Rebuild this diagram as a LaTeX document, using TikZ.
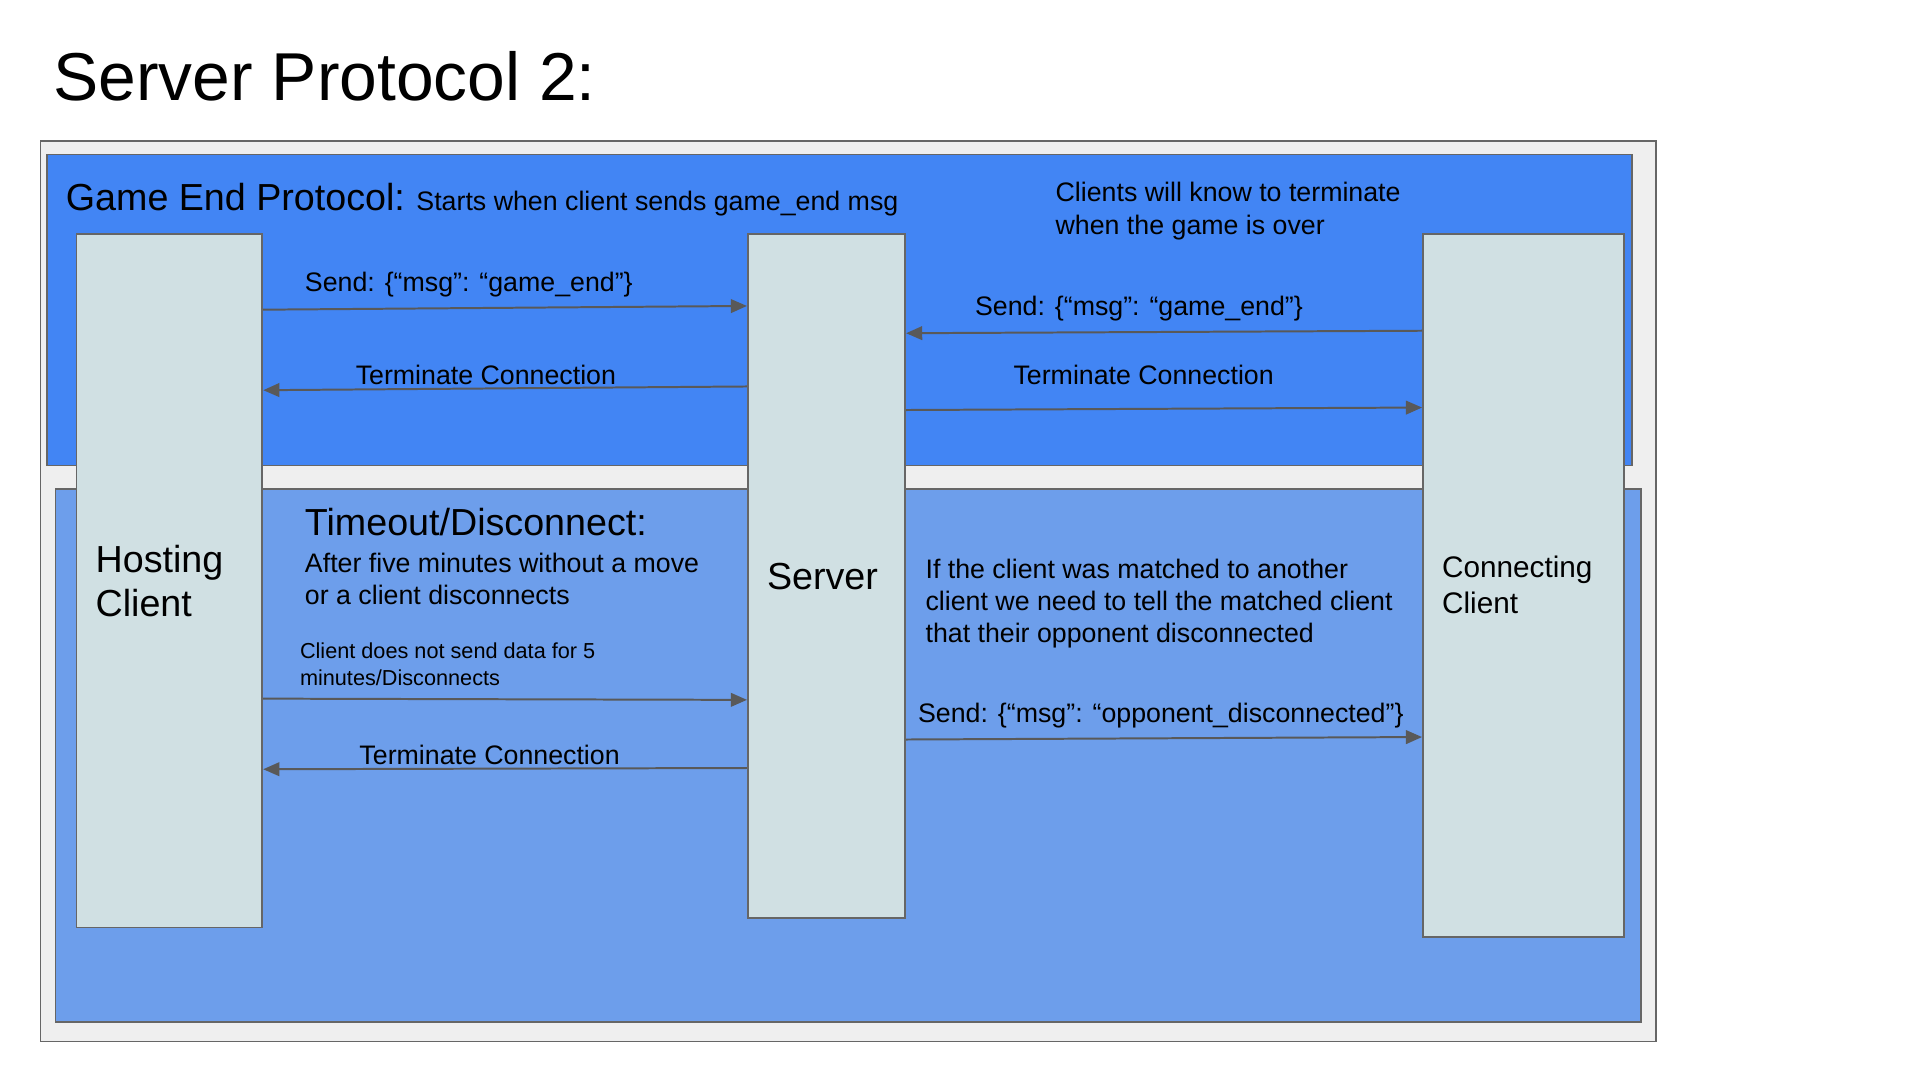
\documentclass[tikz,border=0pt]{standalone}
\usepackage{fontspec}
\setmainfont{Liberation Sans}
\usetikzlibrary{arrows.meta}
\definecolor{outerfill}{HTML}{EFEFEF}
\definecolor{edgegray}{HTML}{666666}
\definecolor{arrgray}{HTML}{595959}
\definecolor{topblue}{HTML}{4285F4}
\definecolor{lowblue}{HTML}{6D9EEB}
\definecolor{boxfill}{HTML}{D0E0E3}
\tikzset{
  panel/.style={draw=edgegray, line width=1.5pt, inner sep=0pt, anchor=north west},
  lifebox/.style={panel, fill=boxfill},
  arr/.style={draw=arrgray, line width=1.6pt, -{Triangle[length=13pt,width=11pt]}},
  body/.style={inner sep=0pt, anchor=base west, align=left, font=\fontsize{21.6}{26}\selectfont},
  big/.style={inner sep=0pt, anchor=base west, align=left, font=\fontsize{30.4}{36}\selectfont},
  small/.style={inner sep=0pt, anchor=base west, align=left, font=\fontsize{17.5}{21}\selectfont},
}
\begin{document}
\begin{tikzpicture}[x=1pt,y=-1pt]
\useasboundingbox (0,0) rectangle (1550,872);
% panels
\node[panel, fill=outerfill, minimum width=1304pt, minimum height=727pt] (outer) at (32,113) {};
\node[panel, fill=topblue, minimum width=1280pt, minimum height=251pt] (gameend) at (37,124) {};
\node[panel, fill=lowblue, minimum width=1280pt, minimum height=430pt] (timeout) at (44,394) {};
% lifelines
\node[lifebox, minimum width=150pt, minimum height=560pt] (host) at (61,188) {};
\node[lifebox, minimum width=127pt, minimum height=552pt] (server) at (603,188) {};
\node[lifebox, minimum width=162pt, minimum height=568pt] (conn) at (1148,188) {};
% title
\node[inner sep=0pt, anchor=base west, font=\fontsize{54.7}{60}\selectfont] (title) at (43,81.5) {Server Protocol 2:};
% game end texts (multi-line nodes: base = last line)
\node[big] (getitle) at (53,170) {Game End Protocol:};
\node[body] (gesub) at (336,170) {Starts when client sends game\_end msg};
\node[body] (genote) at (852,189) {Clients will know to terminate\\when the game is over};
\node[body] (l1) at (246,235) {Send: \{“msg”: “game\_end”\}};
\node[body] (l2) at (287,310) {Terminate Connection};
\node[body] (l3) at (787,255) {Send: \{“msg”: “game\_end”\}};
\node[body] (l4) at (818,310) {Terminate Connection};
% box labels
\node[big] (hostlbl) at (77,498) {Hosting\\Client};
\node[big] (serverlbl) at (619,476) {Server};
\node[inner sep=0pt, anchor=base west, align=left, font=\fontsize{24}{29}\selectfont] (connlbl) at (1164,495) {Connecting\\Client};
% timeout texts
\node[big] (totitle) at (246,432) {Timeout/Disconnect:};
\node[body] (tosub) at (246,488) {After five minutes without a move\\or a client disconnects};
\node[small] (l5) at (242,553) {Client does not send data for 5\\minutes/Disconnects};
\node[body] (l6) at (290,617) {Terminate Connection};
\node[body] (tonote) at (747,519) {If the client was matched to another\\client we need to tell the matched client\\that their opponent disconnected};
\node[body] (l7) at (741,583) {Send: \{“msg”: “opponent\_disconnected”\}};
% arrows
\draw[arr] ([yshift=-62pt]host.north east) -- ([yshift=-59pt]server.north west);
\draw[arr] ([yshift=-124pt]server.north west) -- ([yshift=-127pt]host.north east);
\draw[arr] ([yshift=-79pt]conn.north west) -- ([yshift=-81pt]server.north east);
\draw[arr] ([yshift=-143pt]server.north east) -- ([yshift=-141pt]conn.north west);
\draw[arr] ([yshift=-376pt]host.north east) -- ([yshift=-377pt]server.north west);
\draw[arr] ([yshift=-432pt]server.north west) -- ([yshift=-433pt]host.north east);
\draw[arr] ([yshift=-409pt]server.north east) -- ([yshift=-407pt]conn.north west);
\end{tikzpicture}
\end{document}
